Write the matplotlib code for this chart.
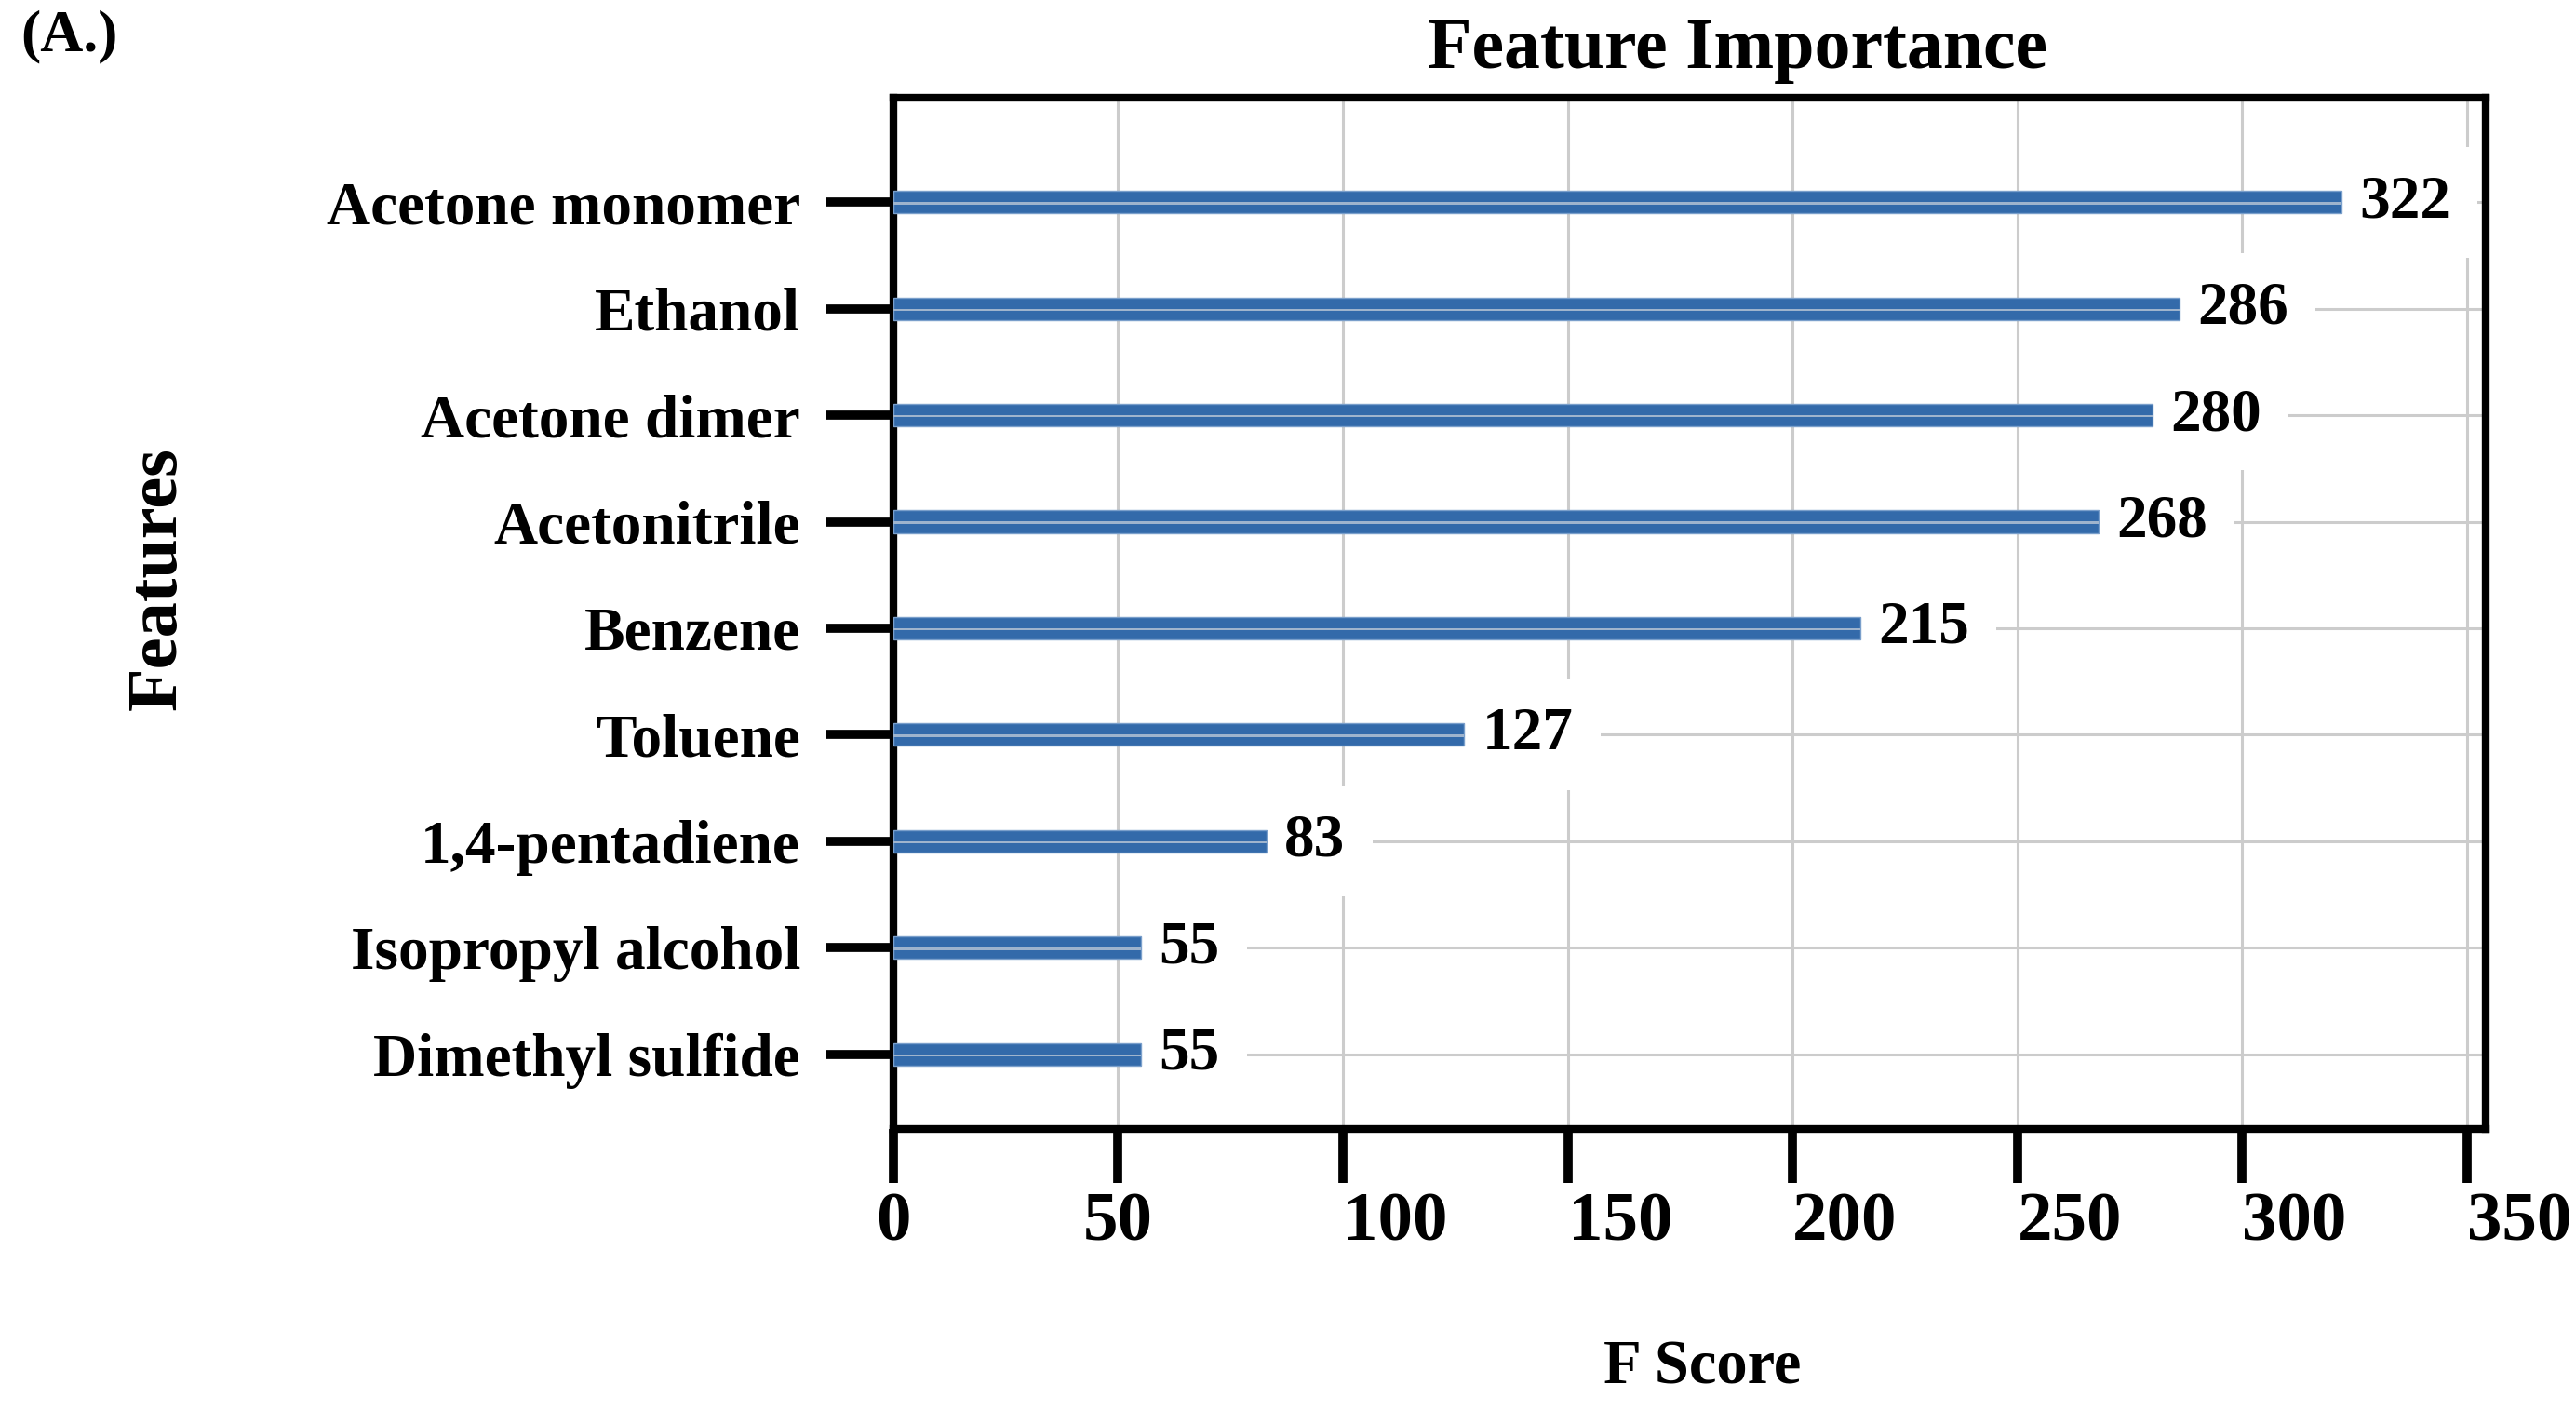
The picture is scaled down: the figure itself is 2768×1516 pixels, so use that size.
import matplotlib
matplotlib.use('Agg')
import matplotlib.pyplot as plt

# ── Data ──────────────────────────────────────────────────────────────────────
features = ['Dimethyl sulfide', 'Isopropyl alcohol', '1,4-pentadiene', 'Toluene',
            'Benzene', 'Acetonitrile', 'Acetone dimer', 'Ethanol', 'Acetone monomer']
f_scores = [55, 55, 83, 127, 215, 268, 280, 286, 322]
x_ticks = [0, 50, 100, 150, 200, 250, 300, 350]

# ── Style ─────────────────────────────────────────────────────────────────────
C_BAR = '#336aaa'
C_BAR_EDGE = '#7a9fcb'
C_STRIPE = '#9fb4cd'
C_GRID = '#cccccc'

plt.rcParams['font.family'] = ['Liberation Serif', 'DejaVu Serif']
plt.rcParams['font.weight'] = 'bold'

fig = plt.figure(figsize=(27.68, 15.16), dpi=100)
fig.patch.set_facecolor('white')
ax = fig.add_axes([0.3468, 0.2, 0.6182, 0.7307])

ypos = list(range(len(features)))
ax.barh(ypos, f_scores, height=0.21, color=C_BAR, edgecolor=C_BAR_EDGE, lw=1.0, zorder=4)
# thin light stripe along each bar
ax.barh([y - 0.01 for y in ypos], f_scores, height=0.022, color=C_STRIPE, lw=0, zorder=5)

for y, v in zip(ypos, f_scores):
    ax.text(v + 4, y, str(v), va='center', ha='left', fontsize=47, fontweight='bold',
            zorder=3, bbox=dict(facecolor='white', edgecolor='none', boxstyle='square,pad=0.45'))

ax.set_xlim(0, max(f_scores) * 1.1)
ax.set_ylim(-0.7, len(features) - 0.02)

ax.set_yticks(ypos, labels=features)
ax.set_xticks(x_ticks, labels=[str(t) for t in x_ticks])
ax.grid(True, color=C_GRID, lw=2.2)
ax.set_axisbelow(True)

for s in ax.spines.values():
    s.set_linewidth(6)
    s.set_color('black')

ax.tick_params(axis='y', length=52, width=7, pad=20, labelsize=47, direction='out')
ax.tick_params(axis='x', length=42, width=7, pad=7, labelsize=54, direction='out')
for lab in ax.get_yticklabels():
    lab.set_fontweight('bold')
for lab in ax.get_xticklabels():
    lab.set_fontweight('bold')
    if len(lab.get_text()) == 3:
        lab.set_horizontalalignment('left')

ax.set_title('Feature Importance', fontsize=56, fontweight='bold', x=0.53, pad=23)
ax.set_xlabel('F Score', fontsize=48, fontweight='bold')
ax.xaxis.set_label_coords(0.508, -0.247)
ax.xaxis.label.set_verticalalignment('baseline')
ax.set_ylabel('Features', fontsize=55, fontweight='bold')
ax.yaxis.set_label_coords(-0.4615, 0.534)
ax.yaxis.label.set_verticalalignment('center')

fig.text(0.008, 0.993, '(A.)', fontsize=46, fontweight='bold', va='top', ha='left')

plt.savefig('out.png', dpi=100, facecolor='white')
plt.close()
